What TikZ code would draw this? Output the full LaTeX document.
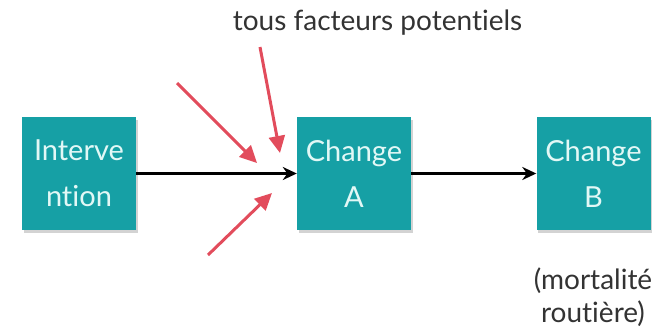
\documentclass[tikz,border=0pt]{standalone}
\usepackage{fontspec}
\setmainfont{Lato}[Ligatures=NoCommon]
\usetikzlibrary{arrows.meta,shadows}
\definecolor{boxteal}{RGB}{22,160,165}
\definecolor{factred}{RGB}{226,76,92}
\definecolor{boxtext}{RGB}{226,248,246}
\tikzset{
  changebox/.style={fill=boxteal,minimum width=114pt,minimum height=113pt,inner sep=0pt,
    text=boxtext,align=center,font=\fontsize{29}{46}\selectfont,
    drop shadow={shadow xshift=1.5pt,shadow yshift=-2.5pt,opacity=0.35,fill=gray}},
  label/.style={text=black!80,align=center,font=\fontsize{28}{33}\selectfont},
  flow/.style={line width=2.4pt,-{Stealth[length=14pt,width=13pt]}},
  factor/.style={factred,line width=3pt,-{Triangle[length=17pt,width=16pt]}}
}
\begin{document}
\begin{tikzpicture}[x=1pt,y=-1pt]
  \useasboundingbox (0,0) rectangle (667,332);
  % boxes
  \node[changebox,at={(79,173.5)}] (interv) {Interve\\ntion};
  \node[changebox,at={(354,173.5)}] (chgA) {Change\\A};
  \node[changebox,at={(593.5,173.5)}] (chgB) {Change\\B};
  %labels
  \node[label,at={(377.5,23)}] (facteurs) {tous facteurs potentiels};
  \node[label,at={(593,297)}] (mortal) {(mortalité\\routière)};
  %arrows
  \draw[flow] (interv) -- (chgA);
  \draw[flow] (chgA) -- (chgB);
  % potential factors
  \coordinate (f1) at (177,83);
  \coordinate (t1) at (257,163);
  \coordinate (f2) at (260,47);
  \coordinate (t2) at (280,153);
  \coordinate (f3) at (208,255);
  \coordinate (t3) at (272,193);
  \draw[factor] (f1) -- (t1);
  \draw[factor] (f2) -- (t2);
  \draw[factor] (f3) -- (t3);
\end{tikzpicture}
\end{document}
